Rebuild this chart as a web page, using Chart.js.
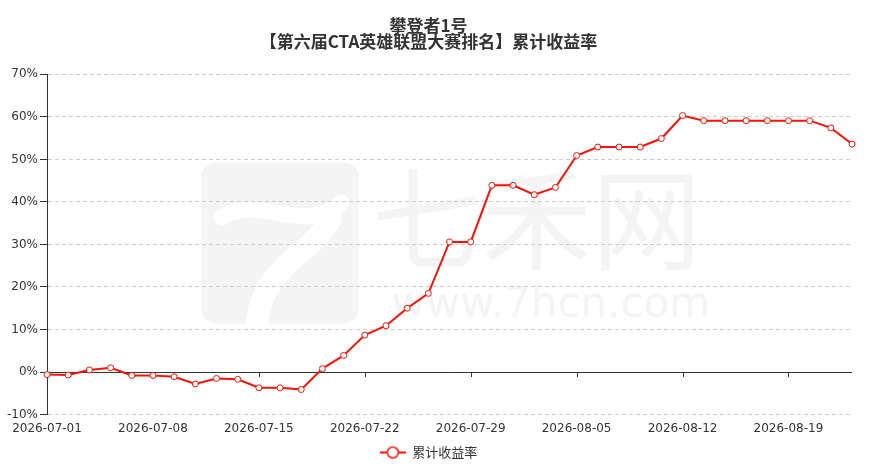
<!DOCTYPE html>
<html>
<head>
<meta charset="utf-8">
<script src="https://cdn.jsdelivr.net/npm/chart.js@4.4.1/dist/chart.umd.min.js"></script>
<style>
    html, body { margin: 0; padding: 0; background: #fff; }
    #wrap { width: 872px; height: 469px; }
</style>
</head>
<body>
<div id="wrap"><canvas id="returnChart"></canvas></div>
<script>
// Chart data
const titleLines = ['攀登者1号', '【第六届CTA英雄联盟大赛排名】累计收益率'];
const seriesName = '累计收益率';

const dates = [
    '2026-07-01', '2026-07-02', '2026-07-03', '2026-07-06', '2026-07-07',
    '2026-07-08', '2026-07-09', '2026-07-10', '2026-07-13', '2026-07-14',
    '2026-07-15', '2026-07-16', '2026-07-17', '2026-07-20', '2026-07-21',
    '2026-07-22', '2026-07-23', '2026-07-24', '2026-07-27', '2026-07-28',
    '2026-07-29', '2026-07-30', '2026-07-31', '2026-08-03', '2026-08-04',
    '2026-08-05', '2026-08-06', '2026-08-07', '2026-08-10', '2026-08-11',
    '2026-08-12', '2026-08-13', '2026-08-14', '2026-08-17', '2026-08-18',
    '2026-08-19', '2026-08-20', '2026-08-21', '2026-08-24'
];

// cumulative return, %
const returns = [
    -0.6, -0.7, 0.5, 1.0, -0.8,
    -0.8, -1.1, -2.8, -1.5, -1.7,
    -3.7, -3.7, -4.1, 0.8, 3.9,
    8.7, 10.9, 15.0, 18.5, 30.6,
    30.6, 43.9, 43.9, 41.7, 43.4,
    50.9, 52.9, 52.9, 52.9, 54.9,
    60.3, 59.1, 59.1, 59.1, 59.1,
    59.1, 59.1, 57.4, 53.6
];

const yMin = -10;
const yMax = 70;
const yStep = 10;
const labelEvery = 5;

const lineColor = 'rgb(250, 18, 8)';
const textColor = '#333';
const axisColor = '#333';
const gridColor = '#ccc';

Chart.defaults.font.family = "'DejaVu Sans', 'Noto Sans CJK SC', sans-serif";
Chart.defaults.color = textColor;

// legend marker: line with hollow circle
function makeLegendMarker() {
    const c = document.createElement('canvas');
    c.width = 26;
    c.height = 14;
    const g = c.getContext('2d');
    g.strokeStyle = lineColor;
    g.lineWidth = 2;
    g.beginPath();
    g.moveTo(0, 7);
    g.lineTo(26, 7);
    g.stroke();
    g.beginPath();
    g.arc(13, 7, 5.5, 0, Math.PI * 2);
    g.fillStyle = '#fff';
    g.fill();
    g.lineWidth = 1.5;
    g.stroke();
    return c;
}

// faint site watermark behind the plot
const watermarkPlugin = {
    id: 'watermark',
    beforeDraw(chart) {
        const { ctx, chartArea } = chart;
        const cx = (chartArea.left + chartArea.right) / 2;
        const cy = (chartArea.top + chartArea.bottom) / 2;
        ctx.save();
        ctx.fillStyle = '#f4f4f4';
        // logo block
        const lx = cx - 248, ly = cy - 82, lw = 157, lh = 161;
        ctx.beginPath();
        ctx.roundRect(lx, ly, lw, lh, 14);
        ctx.fill();
        ctx.strokeStyle = '#fff';
        ctx.lineCap = 'round';
        ctx.lineWidth = 16;
        ctx.beginPath();
        ctx.moveTo(lx + 20, ly + 55);
        ctx.bezierCurveTo(lx + 60, ly + 30, lx + 100, ly + 75, lx + 140, ly + 40);
        ctx.stroke();
        ctx.lineWidth = 22;
        ctx.beginPath();
        ctx.moveTo(lx + 130, ly + 55);
        ctx.bezierCurveTo(lx + 110, ly + 95, lx + 60, ly + 100, lx + 55, ly + 165);
        ctx.stroke();
        // text
        ctx.textBaseline = 'middle';
        ctx.textAlign = 'left';
        ctx.font = "110px 'Noto Sans CJK SC'";
        ctx.fillText('七禾网', cx - 78, cy - 25);
        ctx.font = "42px 'DejaVu Sans'";
        ctx.fillText('www.7hcn.com', cx - 58, cy + 62);
        ctx.restore();
    }
};

// solid zero line with tick marks, as the x axis sits on zero
const zeroAxisPlugin = {
    id: 'zeroAxis',
    beforeDatasetsDraw(chart) {
        const { ctx, chartArea, scales } = chart;
        const y0 = scales.y.getPixelForValue(0);
        ctx.save();
        ctx.strokeStyle = axisColor;
        ctx.lineWidth = 1;
        ctx.beginPath();
        ctx.moveTo(chartArea.left, Math.round(y0) + 0.5);
        ctx.lineTo(chartArea.right, Math.round(y0) + 0.5);
        dates.forEach((d, i) => {
            if (i % labelEvery !== 0) return;
            const x = Math.round(scales.x.getPixelForValue(i)) + 0.5;
            ctx.moveTo(x, y0);
            ctx.lineTo(x, y0 + 5);
        });
        ctx.stroke();
        ctx.restore();
    }
};

const ctx = document.getElementById('returnChart');
new Chart(ctx, {
    type: 'line',
    data: {
        labels: dates,
        datasets: [{
            label: seriesName,
            data: returns,
            borderColor: lineColor,
            backgroundColor: '#fff',
            borderWidth: 2,
            tension: 0,
            pointRadius: 3,
            pointBorderWidth: 1,
            pointBorderColor: lineColor,
            pointBackgroundColor: '#fff'
        }]
    },
    options: {
        responsive: true,
        maintainAspectRatio: false,
        animation: false,
        layout: {
            padding: { left: 5, right: 20, top: 0, bottom: 0 }
        },
        plugins: {
            title: {
                display: true,
                text: titleLines,
                color: textColor,
                font: { size: 17, weight: 'bold', family: "'Noto Sans CJK SC', sans-serif", lineHeight: 0.95 },
                padding: { top: 17, bottom: 25 }
            },
            legend: {
                position: 'bottom',
                labels: {
                    usePointStyle: true,
                    pointStyle: makeLegendMarker(),
                    pointStyleWidth: 26,
                    boxHeight: 13,
                    color: textColor,
                    font: { size: 13, family: "'Noto Sans CJK SC', sans-serif" },
                    padding: 3
                }
            },
            tooltip: { enabled: false }
        },
        scales: {
            x: {
                type: 'category',
                offset: false,
                border: { display: false },
                grid: { display: false, drawTicks: false },
                ticks: {
                    autoSkip: false,
                    maxRotation: 0,
                    padding: 7,
                    color: textColor,
                    font: { size: 12 },
                    callback: function(value, index) {
                        return index % labelEvery === 0 ? dates[index] : null;
                    }
                }
            },
            y: {
                min: yMin,
                max: yMax,
                border: { display: true, color: axisColor, width: 1, dash: [4, 3] },
                grid: {
                    color: gridColor,
                    tickColor: axisColor,
                    tickLength: 7,
                    tickBorderDash: [],
                    drawTicks: true
                },
                ticks: {
                    stepSize: yStep,
                    padding: 2,
                    color: textColor,
                    font: { size: 12 },
                    callback: function(value) {
                        return value + '%';
                    }
                }
            }
        }
    },
    plugins: [watermarkPlugin, zeroAxisPlugin]
});
</script>
</body>
</html>
